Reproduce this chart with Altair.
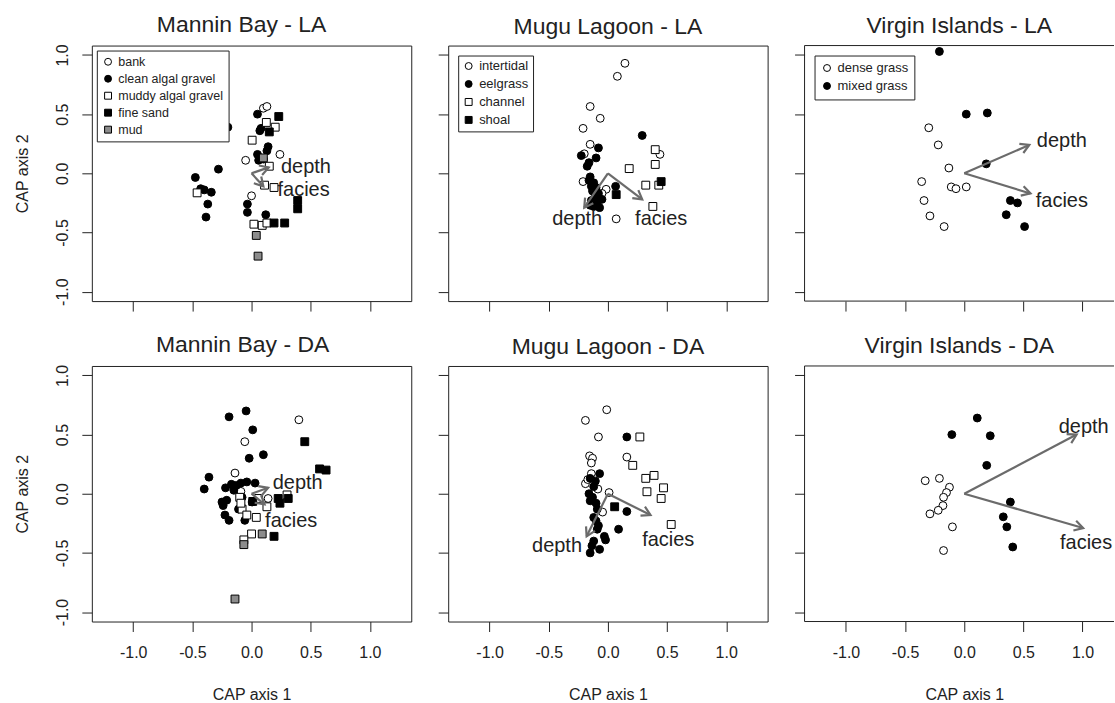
import altair as alt
import pandas as pd

FONT = "Liberation Sans"
INK = "#222222"
ARROW_GREY = "#6b6b6b"
CHEVRON = "M -0.87 -0.5 L 0 0 L -0.87 0.5"

TICKS = [-1.0, -0.5, 0.0, 0.5, 1.0]
ARROW_NAMES = ["depth", "facies"]
LABEL_EXPR = "(datum.value < 0 ? '-' : '') + format(abs(datum.value), '.1f')"

# ---------------- categories ----------------
mb_classes = ["bank", "clean algal gravel", "muddy algal gravel", "fine sand", "mud"]
mb_shapes = ["circle", "circle", "square", "square", "square"]
mb_fills = ["white", "black", "white", "black", "#8c8c8c"]

mg_classes = ["intertidal", "eelgrass", "channel", "shoal"]
mg_shapes = ["circle", "circle", "square", "square"]
mg_fills = ["white", "black", "white", "black"]

vi_classes = ["dense grass", "mixed grass"]
vi_shapes = ["circle", "circle"]
vi_fills = ["white", "black"]

# ---------------- Mannin Bay - LA ----------------
mb_la_bank = ([0.10, 0.13, -0.05, 0.24, 0.00],
              [0.55, 0.565, 0.11, 0.16, -0.19])
mb_la_clean = ([-0.20, -0.28, -0.475, -0.43, -0.40, -0.34, -0.37, -0.385, 0.05, 0.07,
                0.08, 0.14, 0.13, 0.05, 0.06, 0.10, -0.035, -0.035, 0.12],
               [0.39, 0.035, -0.035, -0.13, -0.14, -0.16, -0.26, -0.37, 0.50, 0.36,
                0.38, 0.225, 0.19, 0.16, 0.11, 0.12, -0.26, -0.33, -0.35])
mb_la_muddy = ([0.005, 0.125, 0.20, -0.46, 0.11, 0.19, 0.15, 0.02, 0.09, 0.13],
               [0.28, 0.43, 0.39, -0.165, -0.10, -0.12, 0.06, -0.43, -0.44, -0.42])
mb_la_sand = ([0.23, 0.15, 0.39, 0.39, 0.19, 0.28],
              [0.48, 0.35, -0.23, -0.30, -0.42, -0.42])
mb_la_mud = ([0.10, 0.04, 0.055],
             [0.13, -0.525, -0.70])
mb_la_arrow_x = [0.145, 0.10]
mb_la_arrow_y = [0.05, -0.11]
mb_la_label_x = [0.46, 0.44]
mb_la_label_y = [0.05, -0.14]

# ---------------- Mugu Lagoon - LA ----------------
mg_la_inter = ([0.144, 0.08, -0.15, -0.065, -0.21, -0.15, -0.20, 0.44, -0.21, -0.015, -0.05, 0.07],
               [0.93, 0.82, 0.565, 0.465, 0.38, 0.245, 0.165, 0.16, -0.07, -0.135, -0.17, -0.385])
mg_la_eel = ([0.29, -0.08, -0.225, -0.10, -0.16, -0.175, -0.15, -0.16, -0.12, -0.14, -0.10,
              -0.13, -0.08, -0.11, -0.14, -0.09, -0.12, -0.07, -0.15, 0.065, -0.05],
             [0.32, 0.215, 0.15, 0.13, 0.09, 0.06, -0.03, -0.06, -0.08, -0.11, -0.12,
              -0.15, -0.17, -0.20, -0.23, -0.25, -0.28, -0.29, -0.27, -0.11, -0.22])
mg_la_channel = ([0.40, 0.40, 0.18, 0.32, 0.43, 0.38],
                 [0.20, 0.075, 0.04, -0.10, -0.10, -0.28])
mg_la_shoal = ([0.07, 0.45],
               [-0.18, -0.07])
mg_la_arrow_x = [-0.20, 0.29]
mg_la_arrow_y = [-0.29, -0.22]
mg_la_label_x = [-0.26, 0.45]
mg_la_label_y = [-0.39, -0.39]

# ---------------- Virgin Islands - LA ----------------
vi_la_dense = ([-0.30, -0.22, -0.13, -0.36, -0.11, -0.07, 0.017, -0.34, -0.29, -0.17],
               [0.385, 0.24, 0.045, -0.07, -0.115, -0.13, -0.115, -0.23, -0.36, -0.45])
vi_la_mixed = ([-0.21, 0.017, 0.195, 0.186, 0.39, 0.45, 0.355, 0.51],
               [1.03, 0.50, 0.51, 0.08, -0.23, -0.25, -0.35, -0.45])
vi_la_arrow_x = [0.55, 0.56]
vi_la_arrow_y = [0.24, -0.17]
vi_la_label_x = [0.825, 0.825]
vi_la_label_y = [0.27, -0.23]

# ---------------- Mannin Bay - DA ----------------
mb_da_bank = ([0.40, -0.057, -0.14, 0.14, -0.09],
              [0.625, 0.44, 0.175, -0.04, 0.02])
mb_da_clean = ([-0.046, -0.19, 0.01, 0.10, -0.02, -0.36, -0.40, -0.22, -0.17, -0.13, -0.09, -0.04,
                0.03, -0.24, -0.21, -0.225, -0.19, -0.11, -0.057, -0.08, 0.005, -0.15, -0.25],
               [0.70, 0.65, 0.54, 0.33, 0.30, 0.14, 0.04, 0.05, 0.08, 0.07, 0.09, 0.10,
                0.09, -0.10, -0.055, -0.18, -0.225, -0.13, -0.225, -0.03, -0.07, 0.03, -0.07])
mb_da_muddy = ([-0.10, -0.08, -0.04, 0.04, 0.13, 0.0, -0.065, 0.30, 0.06, -0.09],
               [-0.03, -0.13, -0.18, -0.20, -0.11, -0.34, -0.39, -0.01, -0.04, -0.08])
mb_da_sand = ([0.45, 0.575, 0.63, 0.225, 0.24, 0.31, 0.19, 0.01],
              [0.44, 0.21, 0.20, -0.04, -0.08, -0.04, -0.36, -0.065])
mb_da_mud = ([0.09, -0.065, -0.14],
             [-0.34, -0.43, -0.89])
mb_da_arrow_x = [0.14, 0.11]
mb_da_arrow_y = [0.05, -0.09]
mb_da_label_x = [0.39, 0.335]
mb_da_label_y = [0.09, -0.23]

# ---------------- Mugu Lagoon - DA ----------------
mg_da_inter = ([-0.01, -0.19, -0.08, 0.16, -0.155, -0.13, -0.14, -0.14, -0.19, -0.085, 0.01, -0.045, -0.17],
               [0.71, 0.62, 0.48, 0.31, 0.32, 0.30, 0.26, 0.17, 0.085, 0.04, 0.01, -0.155, 0.12])
mg_da_eel = ([0.16, -0.07, -0.106, -0.15, -0.12, -0.16, -0.13, -0.15, -0.10, -0.09, 0.16,
              0.09, -0.03, -0.02, -0.12, -0.135, -0.07, -0.15, -0.08, -0.09, -0.12, -0.10],
             [0.48, 0.17, 0.107, 0.13, 0.06, 0.0, -0.03, -0.06, -0.08, -0.13, -0.15,
              -0.30, -0.36, -0.39, -0.40, -0.44, -0.47, -0.50, -0.27, -0.30, -0.20, -0.23])
mg_da_channel = ([0.27, 0.21, 0.32, 0.39, 0.33, 0.47, 0.45, 0.535],
                 [0.48, 0.24, 0.13, 0.155, 0.017, 0.05, -0.04, -0.26])
mg_da_shoal = ([0.057],
               [-0.11])
mg_da_arrow_x = [-0.18, 0.36]
mg_da_arrow_y = [-0.36, -0.18]
mg_da_label_x = [-0.43, 0.51]
mg_da_label_y = [-0.44, -0.39]

# ---------------- Virgin Islands - DA ----------------
vi_da_dense = ([-0.33, -0.21, -0.125, -0.15, -0.175, -0.18, -0.22, -0.29, -0.10, -0.175],
               [0.11, 0.13, 0.055, 0.01, -0.03, -0.10, -0.14, -0.17, -0.28, -0.48])
vi_da_mixed = ([0.11, -0.105, 0.22, 0.19, 0.39, 0.33, 0.36, 0.41],
               [0.64, 0.50, 0.49, 0.24, -0.07, -0.195, -0.28, -0.45])
vi_da_arrow_x = [0.95, 1.005]
vi_da_arrow_y = [0.50, -0.29]
vi_da_label_x = [1.01, 1.03]
vi_da_label_y = [0.56, -0.415]

# ---------------- layout constants ----------------
W = 320
W_LAST = 310
H = 256
X_DOM = [-1.35, 1.35]
X_DOM_LAST = [-1.35, 1.266]
Y_DOM = [-1.08, 1.08]


def points_frame(groups):
    rows = []
    for cls, (xs, ys) in groups:
        for xv, yv in zip(xs, ys):
            rows.append({"x": xv, "y": yv, "cls": cls})
    return pd.DataFrame(rows)


def panel(groups, classes, shapes, fills, arrow_x, arrow_y, label_x, label_y,
          title, row, col, legend=None, title_dx=0):
    last = col == 2
    width = W_LAST if last else W
    xdom = X_DOM_LAST if last else X_DOM

    xaxis_kw = dict(values=TICKS, labelExpr=LABEL_EXPR, labelPadding=13, tickSize=10)
    if row == 1:
        xaxis_kw.update(labels=True, title="CAP axis 1", titlePadding=26)
        if last:
            xaxis_kw["titleX"] = 160
    else:
        xaxis_kw.update(labels=False, title=None)

    yaxis_kw = dict(values=TICKS, labelExpr=LABEL_EXPR, tickSize=10, labelAngle=270,
                    labelAlign="center", labelBaseline="bottom", labelPadding=11)
    if col == 0:
        yaxis_kw.update(labels=True, title="CAP axis 2", titlePadding=24)
    else:
        yaxis_kw.update(labels=False, title=None)

    xs = alt.Scale(domain=xdom, nice=False, zero=False)
    ys = alt.Scale(domain=Y_DOM, nice=False, zero=False)

    def X(f):
        return alt.X(f, type="quantitative", scale=xs, axis=alt.Axis(**xaxis_kw))

    def Y(f):
        return alt.Y(f, type="quantitative", scale=ys, axis=alt.Axis(**yaxis_kw))

    if legend is not None:
        leg = alt.Legend(title=None, orient="top-left", direction="vertical",
                         offset=legend["offset"], padding=legend["pad"], strokeColor=INK,
                         fillColor="white", cornerRadius=0, labelFont=FONT,
                         labelFontSize=legend["font"], labelColor=INK, labelOffset=4,
                         symbolSize=48, symbolStrokeWidth=1,
                         rowPadding=legend["row"])
    else:
        leg = None

    pts = alt.Chart(points_frame(groups)).mark_point(
        filled=True, strokeWidth=1, size=62, opacity=1
    ).encode(
        x=X("x"), y=Y("y"),
        shape=alt.Shape("cls:N", scale=alt.Scale(domain=classes, range=shapes), legend=leg),
        fill=alt.Fill("cls:N", scale=alt.Scale(domain=classes, range=fills), legend=leg),
        stroke=alt.Stroke("cls:N", scale=alt.Scale(domain=classes, range=["black"] * len(classes)),
                          legend=leg),
    )

    arr_df = pd.DataFrame({"x": arrow_x, "y": arrow_y, "name": ARROW_NAMES})
    shafts = alt.Chart(arr_df).transform_calculate(o="0").mark_rule(
        color=ARROW_GREY, strokeWidth=2.2
    ).encode(x=X("o"), y=Y("o"), x2=alt.X2("x"), y2=alt.Y2("y"))

    heads = alt.Chart(arr_df).transform_calculate(
        ang="(atan2(-datum.y, datum.x) * 180 / PI + 360) % 360"
    ).mark_point(
        shape=CHEVRON, filled=False, stroke=ARROW_GREY, strokeWidth=2.2, size=400, opacity=1
    ).encode(x=X("x"), y=Y("y"), angle=alt.Angle("ang:Q", scale=None))

    lab_df = pd.DataFrame({"x": label_x, "y": label_y, "name": ARROW_NAMES})
    labels = alt.Chart(lab_df).mark_text(
        font=FONT, fontSize=20, color=INK, align="center", baseline="middle"
    ).encode(x=X("x"), y=Y("y"), text="name:N")

    layers = [pts, shafts, heads, labels]
    if last:
        fdf = pd.DataFrame({"k": [0]})
        layers.append(alt.Chart(fdf).mark_rule(color=INK, strokeWidth=1).encode(
            x=alt.value(0), x2=alt.value(width), y=alt.value(0)))
        layers.append(alt.Chart(fdf).mark_rule(color=INK, strokeWidth=1).encode(
            x=alt.value(0), x2=alt.value(width), y=alt.value(H)))
        layers.append(alt.Chart(fdf).mark_rule(color=INK, strokeWidth=1).encode(
            x=alt.value(0), y=alt.value(0), y2=alt.value(H)))

    ch = alt.layer(*layers).properties(
        width=width, height=H,
        title=alt.TitleParams(text=title, anchor="middle", frame="group",
                              offset=7, dx=title_dx, font=FONT, fontSize=23,
                              fontWeight="normal", color=INK),
    )
    if last:
        ch = ch.properties(view=alt.ViewBackground(stroke="transparent"))
    return ch


p1 = panel([("bank", mb_la_bank), ("clean algal gravel", mb_la_clean),
            ("muddy algal gravel", mb_la_muddy), ("fine sand", mb_la_sand), ("mud", mb_la_mud)],
           mb_classes, mb_shapes, mb_fills, mb_la_arrow_x, mb_la_arrow_y,
           mb_la_label_x, mb_la_label_y, "Mannin Bay - LA", 0, 0,
           legend={"offset": 5, "font": 12.5, "row": 4, "pad": 5}, title_dx=-10)
p2 = panel([("intertidal", mg_la_inter), ("eelgrass", mg_la_eel),
            ("channel", mg_la_channel), ("shoal", mg_la_shoal)],
           mg_classes, mg_shapes, mg_fills, mg_la_arrow_x, mg_la_arrow_y,
           mg_la_label_x, mg_la_label_y, "Mugu Lagoon - LA", 0, 1,
           legend={"offset": 10, "font": 13, "row": 4, "pad": 4})
p3 = panel([("dense grass", vi_la_dense), ("mixed grass", vi_la_mixed)],
           vi_classes, vi_shapes, vi_fills, vi_la_arrow_x, vi_la_arrow_y,
           vi_la_label_x, vi_la_label_y, "Virgin Islands - LA", 0, 2,
           legend={"offset": 10, "font": 13, "row": 4, "pad": 6})
p4 = panel([("bank", mb_da_bank), ("clean algal gravel", mb_da_clean),
            ("muddy algal gravel", mb_da_muddy), ("fine sand", mb_da_sand), ("mud", mb_da_mud)],
           mb_classes, mb_shapes, mb_fills, mb_da_arrow_x, mb_da_arrow_y,
           mb_da_label_x, mb_da_label_y, "Mannin Bay - DA", 1, 0, title_dx=-9)
p5 = panel([("intertidal", mg_da_inter), ("eelgrass", mg_da_eel),
            ("channel", mg_da_channel), ("shoal", mg_da_shoal)],
           mg_classes, mg_shapes, mg_fills, mg_da_arrow_x, mg_da_arrow_y,
           mg_da_label_x, mg_da_label_y, "Mugu Lagoon - DA", 1, 1)
p6 = panel([("dense grass", vi_da_dense), ("mixed grass", vi_da_mixed)],
           vi_classes, vi_shapes, vi_fills, vi_da_arrow_x, vi_da_arrow_y,
           vi_da_label_x, vi_da_label_y, "Virgin Islands - DA", 1, 2)

chart = alt.concat(
    p1, p2, p3, p4, p5, p6, columns=3,
    spacing={"row": 65, "column": 37}, bounds="flush", align="each",
).resolve_scale(
    x="independent", y="independent", shape="independent", fill="independent",
    stroke="independent",
).resolve_legend(
    shape="independent", fill="independent", stroke="independent"
).properties(
    padding={"left": 14, "top": 12, "right": 0, "bottom": 0},
    background="white",
).configure_view(
    stroke=INK, strokeWidth=1
).configure_axis(
    domain=False, grid=False, ticks=True, tickColor=INK, tickWidth=1,
    labelFont=FONT, labelFontSize=16, labelColor=INK, labelFlush=False, labelOverlap=False,
    titleFont=FONT, titleFontSize=16, titleFontWeight="normal", titleColor=INK,
)

chart.save("out.html", embed_options={"renderer": "svg", "actions": False})
